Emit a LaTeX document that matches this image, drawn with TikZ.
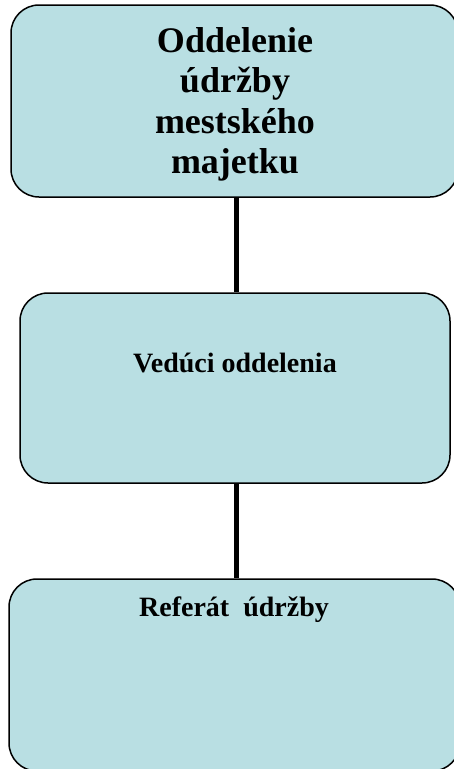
\documentclass[tikz,border=0pt]{standalone}
\usepackage{fontspec}
\setmainfont{Liberation Serif}
\usepackage{tikz}
\usetikzlibrary{positioning}

\definecolor{boxfill}{HTML}{B9DFE3}
\tikzset{
    orgbox/.style={draw=black, line width=1.5pt, fill=boxfill, rounded corners=28pt,
                   inner sep=0pt},
    bigtitle/.style={inner sep=0pt, align=center, font=\bfseries\fontsize{36}{40.3}\selectfont},
    title/.style={inner sep=0pt, font=\bfseries\fontsize{28}{30}\selectfont},
    link/.style={line width=5pt},
}

\begin{document}
\begin{tikzpicture}[x=1pt, y=-1pt]
        \useasboundingbox (0,0) rectangle (453,769);
        % boxes
        \node[orgbox, minimum width=447pt, minimum height=192pt] (dept) at (234.5,101) {};
        \node[orgbox, minimum width=430pt, minimum height=190pt] (head) at (235,388) {};
        \node[orgbox, minimum width=451pt, minimum height=192pt] (unit) at (234.5,675) {};
        % titles
        \node[bigtitle, anchor=north] (depttxt) at (235,27.5)
              {Oddelenie\\ údržby\\ mestského\\ majetku};
        \node[title, anchor=base] (headtxt) at (235,372) {Vedúci oddelenia};
        \node[title, anchor=base] (unittxt) at (234,616) {Referát \ údržby};
        % connectors
        \draw[link] (dept.south -| 236,0) -- (head.north -| 236,0);
        \draw[link] (head.south -| 236,0) -- (unit.north -| 236,0);
\end{tikzpicture}
\end{document}
